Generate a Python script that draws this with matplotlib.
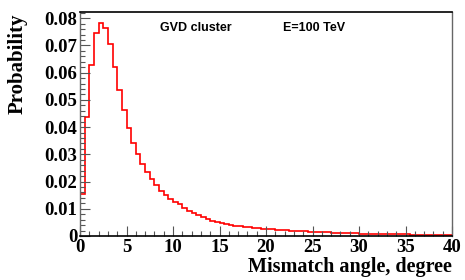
import matplotlib
matplotlib.use("Agg")
import matplotlib.pyplot as plt
from matplotlib.ticker import MultipleLocator
import numpy as np

# mismatch angle histogram, 0.5 degree bins from 0 to 40
bin_edges = np.arange(0, 40.5, 0.5)
probability = [
    0.0153, 0.0436, 0.0627, 0.0747, 0.0784, 0.0763, 0.0707, 0.0620, 0.0537, 0.0463,
    0.0397, 0.0341, 0.0301, 0.0265, 0.0235, 0.0208, 0.0186, 0.0167, 0.0151, 0.0136,
    0.0124, 0.0116, 0.0104, 0.0093, 0.0083, 0.0076, 0.0069, 0.0061, 0.0055, 0.0050,
    0.0047, 0.0044, 0.0041, 0.0038, 0.0036, 0.0034, 0.0032, 0.0030, 0.0029, 0.0027,
    0.0026, 0.0024, 0.0023, 0.0022, 0.0021, 0.0020, 0.0019, 0.0018, 0.0017, 0.0016,
    0.0015, 0.0014, 0.0014, 0.0013, 0.0012, 0.0012, 0.0011, 0.0011, 0.0010, 0.0010,
    0.0009, 0.0009, 0.0008, 0.0008, 0.0008, 0.0007, 0.0007, 0.0007, 0.0006, 0.0006,
    0.0006, 0.0005, 0.0005, 0.0005, 0.0005, 0.0004, 0.0004, 0.0004, 0.0004, 0.0004,
]

serif = "Liberation Serif"
sans = "Liberation Sans"

fig = plt.figure(figsize=(4.65, 2.80), dpi=100)
ax = fig.add_axes([80 / 465, 44 / 280, 372 / 465, 224 / 280])

ax.stairs(probability, bin_edges, color="red", linewidth=1.2, baseline=0)

ax.set_xlim(0, 40)
ax.set_ylim(0, 0.0823)

ax.xaxis.set_major_locator(MultipleLocator(5))
ax.xaxis.set_minor_locator(MultipleLocator(1))
ax.yaxis.set_major_locator(MultipleLocator(0.01))
ax.yaxis.set_minor_locator(MultipleLocator(0.002))
ax.tick_params(which="both", direction="in", top=False, right=False, color="#555555", width=0.8)
ax.tick_params(which="major", length=7)
ax.tick_params(which="minor", length=3.5)
ax.tick_params(axis="x", pad=2)
ax.tick_params(axis="y", pad=2)

ax.set_xticks(np.arange(0, 41, 5))
ax.set_xticklabels([str(v) for v in range(0, 41, 5)])
ax.set_yticks(np.arange(0, 0.081, 0.01))
ax.set_yticklabels(["0"] + ["%.2f" % v for v in np.arange(0.01, 0.081, 0.01)])
for lab in ax.get_xticklabels() + ax.get_yticklabels():
    lab.set_fontfamily(serif)
    lab.set_fontweight("bold")
    lab.set_fontsize(13.5)

for side in ["top", "bottom"]:
    ax.spines[side].set_color("black")
    ax.spines[side].set_linewidth(1.2)
for side in ["left", "right"]:
    ax.spines[side].set_color("#666666")
    ax.spines[side].set_linewidth(1.0)

fig.text(452 / 465, 1 - 267 / 280, "Mismatch angle, degree", ha="right", va="center",
         fontfamily=serif, fontweight="bold", fontsize=14.5)
fig.text(18 / 465, 1 - 64 / 280, "Probability", ha="center", va="center", rotation=90,
         fontfamily=serif, fontweight="bold", fontsize=15)

ax.text(160 / 465, 1 - 28 / 280, "GVD cluster", transform=fig.transFigure, ha="left", va="center",
        fontfamily=sans, fontweight="bold", fontsize=9)
ax.text(283 / 465, 1 - 28 / 280, "E=100 TeV", transform=fig.transFigure, ha="left", va="center",
        fontfamily=sans, fontweight="bold", fontsize=9)

fig.savefig("out.png", dpi=100)
